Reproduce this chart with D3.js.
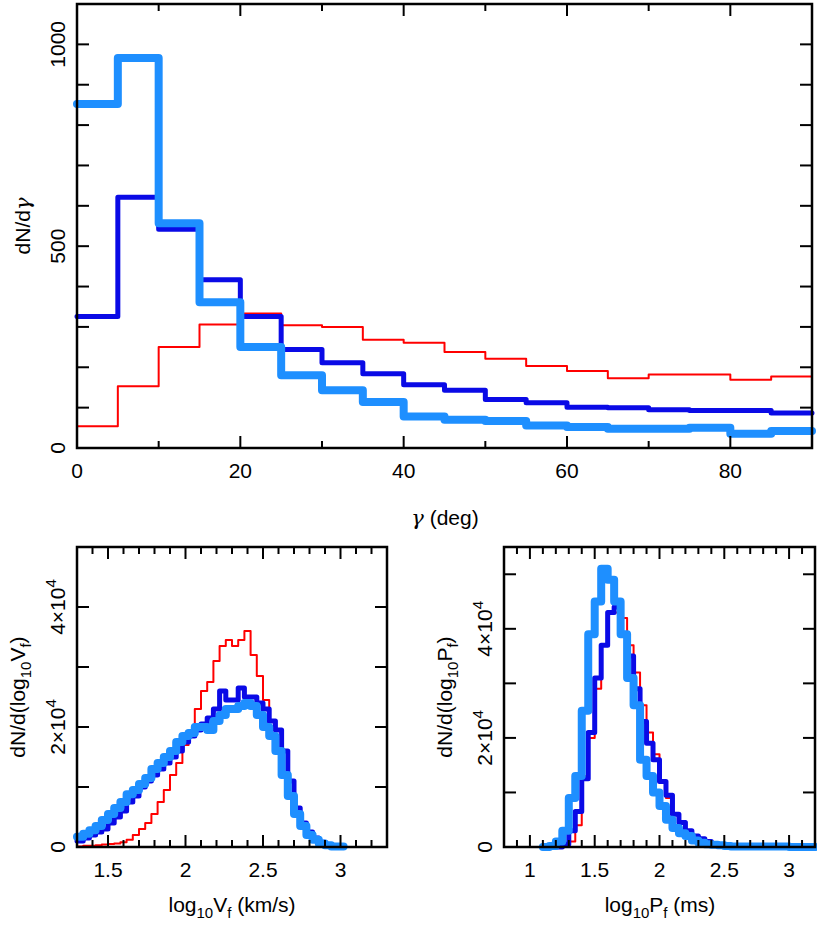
<!DOCTYPE html>
<html><head><meta charset="utf-8">
<script src="https://cdn.jsdelivr.net/npm/d3@7"></script>
<style>body{margin:0;background:#fff}text{font-family:"Liberation Sans",Arial,sans-serif;fill:#000}</style>
</head><body><svg id="c" width="817" height="937"></svg>
<script>
// gamma histograms, 5 deg bins from 0 to 90
const gammaEdges = d3.range(0, 90, 5);
const gammaRed = [54,153,250,306,333,304,300,268,261,238,221,203,191,173,182,182,169,177];
const gammaBlue = [326,621,542,417,326,244,211,184,157,143,120,112,101,100,95,93,93,87];
const gammaLight = [852,966,557,361,250,180,143,114,78,70,67,56,52,48,48,50,35,42];

// log10 Vf histograms (units of 1e4), 0.04 bins from 1.30
const vEdges = d3.range(43).map(i => 1.30 + i * 0.04);
const vRed = [0.01,0.02,0.02,0.03,0.04,0.05,0.06,0.08,0.12,0.2,0.3,0.4,0.55,0.75,0.95,1.2,1.4,1.7,1.95,2.3,2.6,2.75,3.1,3.35,3.45,3.35,3.45,3.6,3.2,2.85,2.45,2.0,1.6,1.2,0.85,0.55,0.35,0.2,0.1,0.05,0.02,0.01,0];
const vBlue = [0.1,0.15,0.2,0.25,0.3,0.4,0.5,0.6,0.75,0.85,1.0,1.1,1.2,1.3,1.4,1.5,1.6,1.75,1.85,1.95,2.05,2.15,2.3,2.6,2.45,2.45,2.65,2.5,2.5,2.4,2.3,2.1,1.95,1.6,1.1,0.65,0.4,0.25,0.15,0.08,0.04,0.02,0.01];
const vLight = [0.17,0.22,0.28,0.35,0.45,0.55,0.65,0.75,0.88,0.95,1.05,1.15,1.3,1.4,1.5,1.6,1.75,1.85,1.9,2.0,2.0,1.95,2.1,2.2,2.3,2.3,2.35,2.4,2.35,2.2,2.0,1.85,1.6,1.2,0.85,0.55,0.35,0.2,0.12,0.06,0.03,0.01,0.01];

// log10 Pf histograms (units of 1e4), 0.05 bins from 1.10
const pEdges = d3.range(42).map(i => 1.10 + i * 0.05);
const pRed = [0,0,0,0.02,0.1,0.4,1.3,2.0,2.9,3.7,4.3,4.3,4.2,3.7,3.2,2.6,2.1,1.7,1.2,0.9,0.6,0.45,0.3,0.2,0.15,0.1,0.06,0.04,0.02,0.01,0.01,0,0,0,0,0,0,0,0,0,0,0];
const pBlue = [0,0,0,0.05,0.3,0.65,1.25,2.1,3.1,3.7,4.3,4.4,3.9,3.5,2.9,2.3,1.9,1.6,1.2,0.95,0.6,0.45,0.3,0.2,0.15,0.1,0.06,0.04,0.03,0.02,0.02,0.01,0.01,0.01,0.01,0.01,0.01,0.01,0.01,0.01,0.01,0.01];
const pLight = [0,0.02,0.1,0.3,0.9,1.3,2.5,3.9,4.5,5.1,4.9,4.5,3.9,3.1,2.6,1.6,1.3,1.0,0.75,0.5,0.35,0.25,0.2,0.12,0.08,0.05,0.04,0.03,0.02,0.01,0.01,0.01,0.01,0.01,0.01,0.01,0.01,0.01,0,0,0,0];

const RED = "#ff0000", BLUE = "#0a0ae6", LIGHT = "#1e8fff";
const svg = d3.select("#c");

function panel(o) {
  const g = svg.append("g");
  const x = d3.scaleLinear().domain(o.xd).range([o.l, o.r]);
  const y = d3.scaleLinear().domain(o.yd).range([o.b, o.t]);
  const line = d3.line().x(d => x(d[0])).y(d => y(d[1])).curve(d3.curveStepAfter);
  o.series.forEach(s => {
    const pts = o.edges.map((e, i) => [e, s.v[i]]);
    pts.push([Math.min(o.edges[o.edges.length - 1] + o.w, o.xd[1]), s.v[s.v.length - 1]]);
    g.append("path").attr("d", line(pts)).attr("fill", "none")
      .attr("stroke", s.c).attr("stroke-width", s.w)
      .attr("stroke-linecap", "round").attr("stroke-linejoin", "round");
  });
  g.append("rect").attr("x", o.l).attr("y", o.t).attr("width", o.r - o.l).attr("height", o.b - o.t)
    .attr("fill", "none").attr("stroke", "#000").attr("stroke-width", 2.5);
  const tk = (x1, y1, x2, y2) => g.append("line").attr("x1", x1).attr("y1", y1).attr("x2", x2).attr("y2", y2).attr("stroke", "#000").attr("stroke-width", 2);
  o.xMinor.forEach(v => { const L = o.xMajor.some(m => Math.abs(m - v) < 1e-6) ? 12 : 7;
    tk(x(v), o.b, x(v), o.b - L); tk(x(v), o.t, x(v), o.t + L); });
  o.yMinor.forEach(v => { const L = 12;
    tk(o.l, y(v), o.l + L, y(v)); tk(o.r, y(v), o.r - L, y(v)); });
  o.xLabels.forEach(v => g.append("text").attr("x", x(v)).attr("y", o.b + 30)
    .attr("text-anchor", "middle").attr("font-size", 21).text(o.xf(v)));
  o.yLabels.forEach(v => {
    const t = g.append("text").attr("transform", `translate(${o.l - 12},${y(v)}) rotate(-90)`)
      .attr("text-anchor", "middle").attr("font-size", 21);
    o.yf(t, v);
  });
  return {x, y, g};
}

const plainY = (t, v) => t.text(v);
const sciY = (t, v) => {
  if (v === 0) { t.text("0"); return; }
  t.text((v / 1e4) + "\u00d710");
  t.append("tspan").attr("dy", -9).attr("font-size", 15).text("4");
};

// top panel
panel({l: 77, r: 812, t: 4, b: 448, xd: [0, 90], yd: [0, 1100], edges: gammaEdges, w: 5,
  series: [{v: gammaRed, c: RED, w: 2}, {v: gammaBlue, c: BLUE, w: 5}, {v: gammaLight, c: LIGHT, w: 8}],
  xMinor: d3.range(0, 91, 10), xMajor: [0,20,40,60,80], yMinor: d3.range(100, 1100, 100),
  xLabels: [0,20,40,60,80], xf: v => v, yLabels: [0,500,1000], yf: plainY});
svg.append("text").attr("x", 445).attr("y", 525).attr("text-anchor", "middle").attr("font-size", 21)
  .html('<tspan font-style="italic" font-family="DejaVu Serif">γ</tspan> (deg)');
svg.append("text").attr("transform", "translate(30,226) rotate(-90)").attr("text-anchor", "middle")
  .attr("font-size", 21).html('dN/d<tspan font-style="italic" font-family="DejaVu Serif">γ</tspan>');

// bottom left
panel({l: 77, r: 387, t: 547, b: 847, xd: [1.3, 3.3], yd: [0, 50000], edges: vEdges, w: 0.04,
  series: [{v: vRed.map(d => d * 1e4), c: RED, w: 2}, {v: vBlue.map(d => d * 1e4), c: BLUE, w: 5}, {v: vLight.map(d => d * 1e4), c: LIGHT, w: 8}],
  xMinor: d3.range(14, 33).map(d => d / 10), xMajor: [1.5,2,2.5,3], yMinor: d3.range(10000, 50000, 10000),
  xLabels: [1.5,2,2.5,3], xf: v => v, yLabels: [0,20000,40000], yf: sciY});
svg.append("text").attr("x", 232).attr("y", 912).attr("text-anchor", "middle").attr("font-size", 21)
  .html('log<tspan font-size="15" dy="6">10</tspan><tspan dy="-6">V</tspan><tspan font-size="15" dy="6">f</tspan><tspan dy="-6"> (km/s)</tspan>');
svg.append("text").attr("transform", "translate(25,697) rotate(-90)").attr("text-anchor", "middle").attr("font-size", 21)
  .html('dN/d(log<tspan font-size="15" dy="6">10</tspan><tspan dy="-6">V</tspan><tspan font-size="15" dy="6">f</tspan><tspan dy="-6">)</tspan>');

// bottom right
panel({l: 504, r: 815, t: 547, b: 847, xd: [0.8, 3.2], yd: [0, 55000], edges: pEdges, w: 0.05,
  series: [{v: pRed.map(d => d * 1e4), c: RED, w: 2}, {v: pBlue.map(d => d * 1e4), c: BLUE, w: 5}, {v: pLight.map(d => d * 1e4), c: LIGHT, w: 8}],
  xMinor: d3.range(9, 33).map(d => d / 10), xMajor: [1,1.5,2,2.5,3], yMinor: d3.range(10000, 55000, 10000),
  xLabels: [1,1.5,2,2.5,3], xf: v => v, yLabels: [0,20000,40000], yf: sciY});
svg.append("text").attr("x", 660).attr("y", 912).attr("text-anchor", "middle").attr("font-size", 21)
  .html('log<tspan font-size="15" dy="6">10</tspan><tspan dy="-6">P</tspan><tspan font-size="15" dy="6">f</tspan><tspan dy="-6"> (ms)</tspan>');
svg.append("text").attr("transform", "translate(452,697) rotate(-90)").attr("text-anchor", "middle").attr("font-size", 21)
  .html('dN/d(log<tspan font-size="15" dy="6">10</tspan><tspan dy="-6">P</tspan><tspan font-size="15" dy="6">f</tspan><tspan dy="-6">)</tspan>');
</script></body></html>
